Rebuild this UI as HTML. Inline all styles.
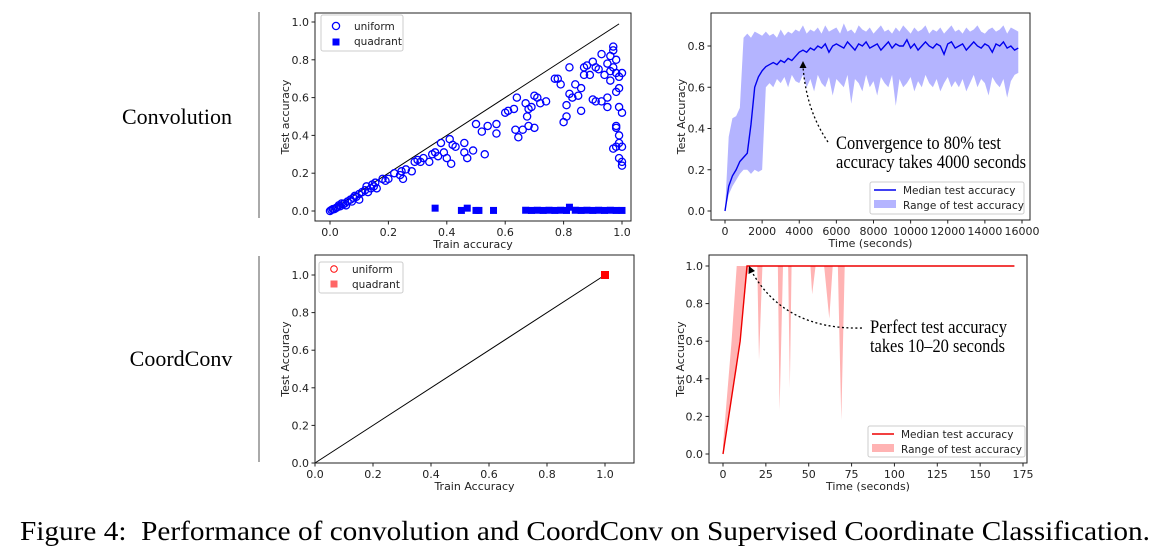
<!DOCTYPE html>
<html><head><meta charset="utf-8">
<style>
html,body{margin:0;padding:0;background:#fff;}
svg{display:block;}
.tick{font-family:"DejaVu Sans","Liberation Sans",sans-serif;font-size:11px;fill:#222;}
.lab{font-family:"DejaVu Sans","Liberation Sans",sans-serif;font-size:11px;fill:#222;}
.leg{font-family:"DejaVu Sans","Liberation Sans",sans-serif;font-size:10.5px;fill:#222;}
.serif{font-family:"Liberation Serif",serif;fill:#000;}
</style></head>
<body>
<svg id="fig" width="1156" height="549" viewBox="0 0 1156 549" xmlns="http://www.w3.org/2000/svg">
<line x1="259" y1="12" x2="259" y2="218" stroke="#aaa" stroke-width="2"/>
<line x1="259" y1="256" x2="259" y2="462" stroke="#aaa" stroke-width="2"/>
<text class="serif" x="177" y="124" font-size="22" text-anchor="middle">Convolution</text>
<text class="serif" x="181" y="366" font-size="22" text-anchor="middle">CoordConv</text>
<text class="serif" x="20" y="540" font-size="27" textLength="1130" lengthAdjust="spacingAndGlyphs">Figure 4:&#160;&#160;Performance of convolution and CoordConv on Supervised Coordinate Classification.</text>
<g id="p1"></g>
<g id="p2"></g>
<g id="p3"></g>
<g id="p4"></g>
</svg>
<script>
// ---- Panel 1 data (convolution scatter)
const uniX=[0,.005,.01,.015,.02,.025,.03,.035,.04,.045,.05,.06,.055,.07,.075,.08,.085,.09,.1,.1,.11,.12,.125,.13,.14,.145,.15,.155,.16,.18,.19,.2,.22,.24,.25,.245,.26,.28,.29,.3,.31,.32,.34,.35,.36,.37,.38,.39,.4,.41,.42,.43,.415,.46,.46,.47,.49,.5,.53,.52,.54,.57,.57,.6,.61,.63,.64,.635,.645,.66,.67,.68,.69,.7,.71,.72,.675,.68,.7,.74,.77,.78,.79,.8,.81,.81,.82,.82,.83,.84,.85,.86,.86,.87,.87,.88,.89,.9,.9,.91,.91,.92,.93,.93,.94,.95,.95,.95,.96,.96,.96,.97,.97,.97,.98,.98,.98,.98,.98,.98,.99,.99,.99,.99,.99,1.0,1.0,1.0,1.0,1.0,.99,.97];
const uniY=[0,.005,.01,.01,.015,.02,.03,.025,.04,.035,.04,.05,.03,.06,.05,.07,.08,.075,.09,.06,.1,.11,.13,.1,.12,.14,.13,.15,.12,.17,.16,.17,.2,.19,.17,.21,.22,.21,.26,.27,.26,.28,.26,.3,.31,.29,.36,.31,.28,.38,.35,.34,.25,.36,.31,.28,.32,.46,.3,.42,.45,.46,.41,.52,.53,.54,.6,.43,.39,.43,.57,.54,.55,.61,.6,.57,.5,.45,.44,.58,.7,.7,.67,.47,.5,.56,.62,.76,.6,.67,.61,.65,.53,.72,.76,.77,.72,.79,.59,.58,.76,.75,.58,.83,.72,.6,.55,.78,.82,.69,.74,.85,.76,.87,.8,.73,.45,.44,.34,.63,.65,.55,.4,.71,.28,.52,.73,.34,.26,.24,.36,.33];
const quadX=[.36,.45,.47,.5,.51,.56,.67,.69,.71,.73,.75,.77,.79,.81,.82,.84,.86,.88,.9,.92,.94,.96,.98,1.0];
const quadY=[.015,.003,.015,.003,.003,.003,.004,.003,.004,.003,.004,.003,.004,.003,.02,.004,.003,.004,.003,.004,.003,.004,.003,.003];
const p1Ticks=[0,0.2,0.4,0.6,0.8,1.0];
const p1TickLabels=["0.0","0.2","0.4","0.6","0.8","1.0"];
// ---- Panel 2 data (convolution over time)
const convStep=200;
const convMedian=[0,0.12,0.17,0.2,0.24,0.26,0.28,0.42,0.6,0.65,0.68,0.7,0.71,0.72,0.71,0.73,0.72,0.74,0.73,0.75,0.77,0.78,0.77,0.79,0.78,0.8,0.79,0.81,0.77,0.8,0.81,0.8,0.79,0.82,0.8,0.78,0.81,0.8,0.82,0.79,0.8,0.81,0.78,0.8,0.82,0.79,0.81,0.8,0.8,0.83,0.79,0.81,0.78,0.8,0.82,0.8,0.79,0.81,0.8,0.76,0.81,0.82,0.79,0.8,0.81,0.78,0.8,0.82,0.8,0.79,0.81,0.8,0.77,0.81,0.8,0.82,0.79,0.8,0.78,0.79];
const convUpper=[0,0.36,0.45,0.46,0.5,0.84,0.86,0.84,0.87,0.86,0.85,0.87,0.85,0.86,0.84,0.88,0.85,0.87,0.86,0.88,0.87,0.9,0.86,0.88,0.87,0.89,0.86,0.9,0.87,0.88,0.89,0.86,0.91,0.87,0.88,0.86,0.9,0.88,0.87,0.89,0.86,0.88,0.9,0.87,0.88,0.86,0.89,0.87,0.9,0.88,0.86,0.89,0.87,0.88,0.9,0.86,0.88,0.87,0.89,0.86,0.88,0.9,0.87,0.88,0.86,0.89,0.87,0.88,0.9,0.87,0.86,0.88,0.89,0.87,0.88,0.9,0.86,0.89,0.88,0.87];
const convLower=[0,0.08,0.12,0.15,0.18,0.2,0.2,0.18,0.2,0.19,0.2,0.6,0.62,0.6,0.64,0.62,0.65,0.6,0.66,0.63,0.62,0.66,0.6,0.64,0.58,0.66,0.62,0.6,0.65,0.56,0.64,0.62,0.6,0.66,0.52,0.64,0.62,0.58,0.66,0.6,0.63,0.56,0.65,0.62,0.6,0.66,0.51,0.64,0.6,0.62,0.65,0.58,0.63,0.6,0.66,0.62,0.6,0.64,0.58,0.62,0.65,0.6,0.63,0.6,0.64,0.58,0.62,0.66,0.6,0.64,0.62,0.56,0.65,0.62,0.6,0.64,0.55,0.63,0.66,0.67];
const p2XTicks=[0,2000,4000,6000,8000,10000,12000,14000,16000];
const p2YTicks=[0,0.2,0.4,0.6,0.8];
// ---- Panel 3 data (coordconv over time)
const ccTimes=[0,5,8,10,14,16,20,21,23,32,33,35,38,39,40,51,52,54,59,62,64,67,69,71,170];
const ccUpper=[0.05,0.6,1,1,1,1,1,1,1,1,1,1,1,1,1,1,1,1,1,1,1,1,1,1,1];
const ccLower=[0,0.3,0.45,0.6,0.95,1,1,0.5,1,1,0.23,1,1,0.35,1,1,0.85,1,1,0.72,1,1,0.18,1,1];
const ccMedTimes=[0,10,14,170];
const ccMedian=[0,0.6,1,1];
const p3XTicks=[0,25,50,75,100,125,150,175];
const p3YTicks=[0,0.2,0.4,0.6,0.8,1.0];
// ---- Panel 4 data (coordconv scatter)
const ccUniX=[1.0], ccUniY=[1.0], ccQuadX=[1.0], ccQuadY=[1.0];
const p4Ticks=[0,0.2,0.4,0.6,0.8,1.0];

const NS="http://www.w3.org/2000/svg";
function mk(parent,tag,attrs){const e=document.createElementNS(NS,tag);for(const k in attrs)e.setAttribute(k,attrs[k]);parent.appendChild(e);return e;}
function txt(parent,x,y,s,cls,anchor){const t=mk(parent,'text',{x:x,y:y,'class':cls,'text-anchor':anchor||'middle'});t.textContent=s;return t;}
function lin(d0,d1,r0,r1){return v=>r0+(v-d0)/(d1-d0)*(r1-r0);}
function fmt(v,dec){return v.toFixed(dec);}
function axes(g,box,sx,sy,xt,yt,xl,yl,xdec,ydec,xlab,ylab,ylabX){
  mk(g,'rect',{x:box[0],y:box[1],width:box[2]-box[0],height:box[3]-box[1],fill:'none',stroke:'#222','stroke-width':1});
  xt.forEach((v,i)=>{const x=sx(v);mk(g,'line',{x1:x,y1:box[3],x2:x,y2:box[3]+3.5,stroke:'#222'});
    const t=txt(g,x,box[3]+15,xl?xl[i]:fmt(v,xdec),'tick');
    
    });
  yt.forEach((v,i)=>{const y=sy(v);mk(g,'line',{x1:box[0]-3.5,y1:y,x2:box[0],y2:y,stroke:'#222'});
    const t=txt(g,box[0]-6,y+4,yl?yl[i]:fmt(v,ydec),'tick','end');
    
    });
  const xa=txt(g,(box[0]+box[2])/2,box[3]+27,xlab,'lab');
  
  
  const cy=(box[1]+box[3])/2;
  const ya=mk(g,'text',{x:ylabX,y:cy,'class':'lab','text-anchor':'middle',transform:`rotate(-90 ${ylabX} ${cy})`});ya.textContent=ylab;
  
  
}
function legendBox(g,x,y,w,h){mk(g,'rect',{x:x,y:y,width:w,height:h,fill:'#fff',stroke:'#ccc','stroke-width':1,rx:2});}
function ann(g,x,y,s,len){const t=txt(g,x,y,s,'serif','start');t.setAttribute('font-size','19');t.setAttribute('textLength',len);t.setAttribute('lengthAdjust','spacingAndGlyphs');
  
  return t;}

// Panel 1
(function(){
  const g=document.getElementById('p1');const box=[315,13,631,221];
  const sx=lin(0,1,330,622), sy=lin(0,1,211,22);
  mk(g,'line',{x1:sx(0),y1:sy(0),x2:sx(0.99),y2:sy(0.99),stroke:'#000','stroke-width':1});
  uniX.forEach((v,i)=>{const c=mk(g,'circle',{cx:sx(v),cy:sy(uniY[i]),r:3.6,fill:'none',stroke:'#0000ff','stroke-width':1.3});
    
    });
  quadX.forEach((v,i)=>{const r=mk(g,'rect',{x:sx(v)-3.5,y:sy(quadY[i])-3.5,width:7,height:7,fill:'#0000ff'});
    
    });
  axes(g,box,sx,sy,p1Ticks,p1Ticks,p1TickLabels,p1TickLabels,1,1,'Train accuracy','Test accuracy',289);
  const lg=mk(g,'g',{});
  legendBox(lg,321,15,82,36);
  mk(lg,'circle',{cx:336,cy:26,r:3.6,fill:'none',stroke:'#0000ff','stroke-width':1.3});txt(lg,354,30,'uniform','leg','start');
  mk(lg,'rect',{x:332.5,y:38.5,width:7,height:7,fill:'#0000ff'});txt(lg,354,45,'quadrant','leg','start');
})();

// Panel 2
(function(){
  const g=document.getElementById('p2');const box=[711,13,1030,220];
  const sx=lin(0,16000,725,1022), sy=lin(0,0.8,211,46);
  const n=Math.min(convMedian.length,convUpper.length,convLower.length);
  let d='';for(let i=0;i<n;i++)d+=(i?'L':'M')+sx(i*convStep)+','+sy(convUpper[i]);
  for(let i=n-1;i>=0;i--)d+='L'+sx(i*convStep)+','+sy(convLower[i]);
  mk(g,'path',{d:d+'Z',fill:'#b4b4ff',stroke:'none'});
  let m='';for(let i=0;i<n;i++)m+=(i?'L':'M')+sx(i*convStep)+','+sy(convMedian[i]);
  mk(g,'path',{d:m,fill:'none',stroke:'#0000ee','stroke-width':1.4});
  axes(g,box,sx,sy,p2XTicks,p2YTicks,null,null,0,1,'Time (seconds)','Test Accuracy',685);
  mk(g,'path',{d:'M828,142 Q806,110 803,66',fill:'none',stroke:'#000','stroke-width':1.3,'stroke-dasharray':'2,2.5'});
  mk(g,'path',{d:'M803,61 L799.5,68 L806.5,68 Z',fill:'#000'});
  ann(g,836,149,'Convergence to 80% test',165);
  ann(g,836,168,'accuracy takes 4000 seconds',190);
  const lg=mk(g,'g',{});
  legendBox(lg,870,182,154,32);
  mk(lg,'line',{x1:874,y1:190,x2:896,y2:190,stroke:'#0000ee','stroke-width':1.4});txt(lg,903,194,'Median test accuracy','leg','start');
  mk(lg,'rect',{x:874,y:200,width:22,height:8,fill:'#b4b4ff'});txt(lg,903,209,'Range of test accuracy','leg','start');
})();

// Panel 3
(function(){
  const g=document.getElementById('p3');const box=[709,255,1027,463];
  const sx=lin(0,175,723,1023), sy=lin(0,1,454,266);
  let d='';ccTimes.forEach((t,i)=>{d+=(i?'L':'M')+sx(t)+','+sy(ccUpper[i]);});
  for(let i=ccTimes.length-1;i>=0;i--)d+='L'+sx(ccTimes[i])+','+sy(ccLower[i]);
  mk(g,'path',{d:d+'Z',fill:'#ffb3b3',stroke:'none'});
  let m='';ccMedTimes.forEach((t,i)=>{m+=(i?'L':'M')+sx(t)+','+sy(ccMedian[i]);});
  mk(g,'path',{d:m,fill:'none',stroke:'#ee0000','stroke-width':1.4});
  axes(g,box,sx,sy,p3XTicks,p3YTicks,null,null,0,1,'Time (seconds)','Test Accuracy',684);
  mk(g,'path',{d:'M862,328 Q785,330 752,272',fill:'none',stroke:'#000','stroke-width':1.3,'stroke-dasharray':'2,2.5'});
  mk(g,'path',{d:'M749,266 L748.5,274 L755,271 Z',fill:'#000'});
  ann(g,870,333,'Perfect test accuracy',137);
  ann(g,870,352,'takes 10–20 seconds',135);
  const lg=mk(g,'g',{});
  legendBox(lg,868,426,157,31);
  mk(lg,'line',{x1:872,y1:434,x2:894,y2:434,stroke:'#ee0000','stroke-width':1.4});txt(lg,901,438,'Median test accuracy','leg','start');
  mk(lg,'rect',{x:872,y:444,width:22,height:8,fill:'#ffb3b3'});txt(lg,901,453,'Range of test accuracy','leg','start');
})();

// Panel 4
(function(){
  const g=document.getElementById('p4');const box=[315,255,634,463];
  const sx=lin(0,1,315,605), sy=lin(0,1,463,275);
  mk(g,'line',{x1:sx(0),y1:sy(0),x2:sx(1),y2:sy(1),stroke:'#000','stroke-width':1});
  ccUniX.forEach((v,i)=>{const c=mk(g,'circle',{cx:sx(v),cy:sy(ccUniY[i]),r:3.3,fill:'none',stroke:'#ff0000'});
    
    });
  ccQuadX.forEach((v,i)=>{const r=mk(g,'rect',{x:sx(v)-4,y:sy(ccQuadY[i])-4,width:8,height:8,fill:'#ff0000'});
    
    });
  axes(g,box,sx,sy,p4Ticks,p4Ticks,null,null,1,1,'Train Accuracy','Test Accuracy',289);
  const lg=mk(g,'g',{});
  legendBox(lg,319,262,84,31);
  mk(lg,'circle',{cx:334,cy:269,r:3.3,fill:'none',stroke:'#ff0000'});txt(lg,352,273,'uniform','leg','start');
  mk(lg,'rect',{x:330.5,y:280.5,width:7,height:7,fill:'#ff6666'});txt(lg,352,288,'quadrant','leg','start');
})();
</script>
</body></html>
